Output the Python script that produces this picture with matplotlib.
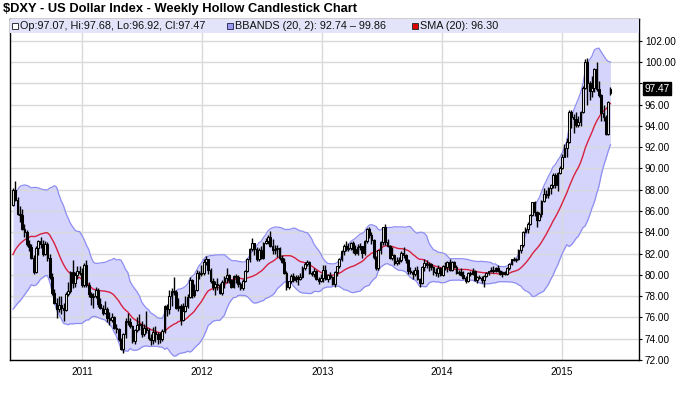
import matplotlib
matplotlib.use('Agg')
import matplotlib.pyplot as plt
import matplotlib.dates as mdates
import matplotlib.transforms as mtransforms
from matplotlib.patches import Rectangle
import numpy as np
import pandas as pd

plt.rcParams['font.family'] = ['Liberation Sans', 'DejaVu Sans']

# ---------------- data (weekly OHLC, $DXY) ----------------
# 19 weekly closes before the visible window (needed for SMA / BBANDS 20)
pre_closes = [78.3, 79.5, 80.5, 80.4, 80.5, 80.4, 80.2, 79.6, 80.9, 81.9,
              81.2, 80.6, 81.1, 81.6, 81.5, 84.0, 86.0, 85.4, 86.6]

first_week = '2010-06-04'

o2010 = [86.6, 88.0, 87.0, 85.7, 85.6, 84.3, 84.0, 82.9, 82.6, 81.6, 80.3, 82.5, 83.2, 82.9, 82.0, 82.9,
         81.6, 79.8, 78.3, 77.4, 76.8, 77.2, 76.9, 76.7, 78.2, 78.5, 80.3, 79.2, 80.0, 80.4, 80.2]
h2010 = [88.2, 88.8, 87.3, 86.5, 86.2, 84.8, 84.2, 83.3, 82.9, 81.9, 82.7, 83.3, 83.6, 83.3, 83.2, 83.1,
         82.0, 80.2, 78.7, 77.8, 78.0, 78.0, 77.4, 78.4, 79.3, 80.4, 81.4, 80.3, 80.8, 80.8, 80.6]
l2010 = [86.5, 86.9, 85.6, 85.0, 84.2, 83.6, 82.7, 82.2, 81.5, 80.1, 80.2, 81.9, 82.5, 81.8, 81.9, 81.3,
         79.6, 78.1, 77.3, 75.9, 76.5, 76.3, 75.7, 76.6, 78.0, 78.3, 78.8, 78.9, 79.6, 80.0, 78.9]
c2010 = [88.0, 87.0, 85.7, 85.6, 84.3, 84.0, 82.9, 82.6, 81.6, 80.3, 82.5, 83.2, 82.9, 82.0, 82.9, 81.6,
         79.8, 78.3, 77.4, 76.8, 77.2, 76.9, 76.7, 78.2, 78.5, 80.3, 79.2, 80.0, 80.4, 80.2, 79.0]

o2011 = [79.0, 80.9, 79.0, 78.2, 77.9, 78.0, 78.6, 77.3, 76.9, 76.4, 76.8, 75.9, 75.8, 76.0, 75.0, 74.9,
         74.0, 73.0, 74.4, 75.7, 75.6, 75.2, 73.8, 74.8, 75.3, 75.4, 74.4, 75.0, 74.8, 74.1, 73.9, 74.6,
         74.4, 74.0, 74.0, 74.7, 77.1, 76.8, 78.0, 78.5, 78.4, 76.9, 77.1, 75.8, 76.6, 77.1, 77.9, 79.5,
         78.1, 78.6, 80.2, 80.1]
h2011 = [81.1, 81.4, 79.3, 78.4, 78.3, 78.9, 78.8, 77.8, 77.2, 77.5, 77.0, 76.5, 76.4, 76.1, 75.4, 75.0,
         74.1, 74.5, 75.9, 76.4, 75.9, 75.3, 74.9, 76.0, 76.3, 75.7, 75.4, 76.6, 75.0, 74.4, 75.1, 75.2,
         74.6, 74.6, 74.9, 77.2, 77.3, 78.6, 78.8, 79.8, 78.6, 77.8, 77.3, 77.4, 78.0, 78.2, 79.8, 79.6,
         79.1, 80.5, 80.4, 80.9]
l2011 = [78.9, 78.9, 77.9, 77.2, 76.9, 77.8, 77.0, 76.8, 76.2, 76.3, 75.6, 75.3, 75.6, 74.9, 74.5, 73.8,
         72.9, 72.7, 74.1, 75.3, 75.0, 73.6, 73.5, 74.6, 74.8, 74.2, 74.3, 74.5, 73.9, 73.4, 73.5, 73.7,
         73.5, 73.6, 73.8, 74.5, 76.1, 76.3, 77.1, 78.1, 76.8, 76.6, 75.3, 75.7, 76.5, 76.9, 77.8, 77.8,
         77.9, 78.5, 79.6, 79.9]
c2011 = [80.9, 79.0, 78.2, 77.9, 78.0, 78.6, 77.3, 76.9, 76.4, 76.8, 75.9, 75.8, 76.0, 75.0, 74.9, 74.0,
         73.0, 74.4, 75.7, 75.6, 75.2, 73.8, 74.8, 75.3, 75.4, 74.4, 75.0, 74.8, 74.1, 73.9, 74.6, 74.4,
         74.0, 74.0, 74.7, 77.1, 76.8, 78.0, 78.5, 78.4, 76.9, 77.1, 75.8, 76.6, 77.1, 77.9, 79.5, 78.1,
         78.6, 80.2, 80.1, 80.2]

o2012 = [80.2, 81.2, 81.5, 80.5, 79.4, 78.9, 79.1, 79.0, 78.3, 79.3, 79.7, 80.0, 79.5, 78.9, 79.9, 79.8,
         79.1, 78.8, 79.4, 80.4, 81.5, 82.4, 83.0, 82.4, 81.5, 82.3, 81.6, 83.0, 83.2, 83.6, 82.7, 82.3,
         82.4, 82.5, 81.6, 81.2, 80.2, 78.9, 79.4, 79.9, 79.5, 79.8, 79.6, 79.8, 80.6, 81.0, 81.2, 80.2,
         80.1, 80.4, 79.6, 79.4]
h2012 = [81.5, 81.8, 81.5, 80.6, 79.7, 79.4, 79.7, 79.2, 79.5, 79.9, 80.6, 80.1, 79.6, 80.0, 80.1, 80.0,
         79.3, 79.6, 80.5, 81.6, 82.5, 83.5, 83.0, 82.6, 82.5, 82.7, 83.1, 83.5, 83.7, 84.1, 83.4, 82.8,
         82.8, 82.6, 81.9, 81.6, 80.4, 79.4, 80.1, 80.2, 80.0, 80.0, 80.2, 80.8, 81.2, 81.4, 81.3, 80.4,
         80.6, 80.5, 79.8, 80.1]
l2012 = [80.0, 80.9, 80.1, 79.2, 78.6, 78.1, 78.6, 78.2, 78.1, 78.8, 79.2, 79.2, 78.8, 78.8, 79.2, 78.9,
         78.6, 78.6, 79.3, 80.3, 81.2, 82.2, 81.9, 81.3, 81.3, 81.5, 81.5, 82.9, 82.9, 82.6, 82.0, 82.0,
         81.7, 81.4, 81.1, 80.1, 78.6, 78.7, 79.2, 79.3, 79.3, 79.0, 79.5, 79.7, 80.5, 80.8, 80.1, 79.9,
         79.8, 79.5, 79.1, 79.3]
c2012 = [81.2, 81.5, 80.5, 79.4, 78.9, 79.1, 79.0, 78.3, 79.3, 79.7, 80.0, 79.5, 78.9, 79.9, 79.8, 79.1,
         78.8, 79.4, 80.4, 81.5, 82.4, 83.0, 82.4, 81.5, 82.3, 81.6, 83.0, 83.2, 83.6, 82.7, 82.3, 82.4,
         82.5, 81.6, 81.2, 80.2, 78.9, 79.4, 79.9, 79.5, 79.8, 79.6, 79.8, 80.6, 81.0, 81.2, 80.2, 80.1,
         80.4, 79.6, 79.4, 79.7]

o2013 = [79.7, 80.5, 79.6, 80.0, 79.8, 79.1, 80.3, 80.8, 81.5, 82.2, 82.7, 82.4, 82.5, 83.0, 82.4, 82.1,
         82.6, 82.7, 82.1, 83.2, 84.3, 83.7, 83.3, 81.7, 80.6, 82.3, 83.1, 84.5, 83.1, 82.7, 81.6, 81.9,
         81.1, 81.3, 81.4, 82.1, 81.9, 81.4, 80.4, 80.3, 80.1, 80.5, 79.6, 79.2, 80.7, 81.1, 80.9, 81.0,
         80.7, 80.3, 80.2, 80.6]
h2013 = [80.9, 80.9, 80.1, 80.3, 79.9, 80.4, 80.8, 81.6, 82.3, 82.9, 83.2, 83.0, 83.1, 83.2, 82.8, 82.9,
         83.0, 82.7, 83.3, 84.4, 84.5, 84.0, 83.4, 81.8, 82.3, 83.2, 84.5, 84.8, 83.4, 82.8, 82.6, 82.0,
         81.7, 81.7, 82.2, 82.6, 82.0, 81.5, 80.7, 80.5, 80.7, 80.8, 79.7, 80.8, 81.5, 81.4, 81.2, 81.1,
         80.8, 80.6, 80.9, 80.7]
l2013 = [79.3, 79.5, 79.3, 79.6, 79.0, 78.9, 79.9, 80.6, 81.3, 81.9, 82.2, 82.2, 82.3, 82.1, 81.9, 81.9,
         82.3, 81.6, 81.9, 83.0, 83.5, 82.9, 81.5, 80.5, 80.5, 82.0, 82.8, 82.8, 82.6, 81.5, 81.4, 80.9,
         80.9, 81.0, 81.2, 81.6, 81.1, 80.1, 80.1, 79.6, 79.9, 79.5, 78.9, 79.1, 80.4, 80.6, 80.4, 80.5,
         80.0, 79.9, 79.8, 79.9]
c2013 = [80.5, 79.6, 80.0, 79.8, 79.1, 80.3, 80.8, 81.5, 82.2, 82.7, 82.4, 82.5, 83.0, 82.4, 82.1, 82.6,
         82.7, 82.1, 83.2, 84.3, 83.7, 83.3, 81.7, 80.6, 82.3, 83.1, 84.5, 83.1, 82.7, 81.6, 81.9, 81.1,
         81.3, 81.4, 82.1, 81.9, 81.4, 80.4, 80.3, 80.1, 80.5, 79.6, 79.2, 80.7, 81.1, 80.9, 81.0, 80.7,
         80.3, 80.2, 80.6, 80.0]

o2014 = [80.0, 80.8, 80.7, 81.2, 80.5, 81.2, 80.7, 80.2, 80.3, 80.0, 79.7, 79.4, 80.2, 80.1, 80.4, 79.5,
         79.8, 79.7, 79.5, 79.9, 80.2, 80.4, 80.5, 80.4, 80.6, 80.4, 80.1, 80.3, 80.1, 80.6, 81.0, 81.5,
         81.4, 81.5, 82.3, 82.8, 84.0, 84.3, 84.8, 85.6, 86.8, 85.9, 85.2, 85.7, 86.9, 87.6, 87.5, 88.2,
         88.4, 89.4, 88.4, 89.6]
h2014 = [80.9, 81.2, 81.3, 81.5, 81.3, 81.3, 80.9, 80.5, 80.6, 80.4, 79.9, 80.3, 80.4, 80.6, 80.5, 79.9,
         80.0, 79.9, 80.0, 80.3, 80.4, 80.7, 80.8, 80.7, 80.9, 80.5, 80.4, 80.4, 80.7, 81.1, 81.5, 81.7,
         81.6, 82.4, 82.8, 84.1, 84.5, 85.0, 85.7, 86.8, 86.9, 86.0, 85.9, 87.0, 88.2, 88.0, 88.3, 88.5,
         89.6, 89.6, 89.7, 90.2]
l2014 = [79.9, 80.5, 80.3, 80.4, 80.4, 80.6, 80.1, 80.0, 79.9, 79.6, 79.2, 79.3, 79.9, 80.0, 79.4, 79.2,
         79.6, 79.2, 78.9, 79.8, 80.0, 80.3, 80.2, 80.3, 80.3, 80.0, 79.8, 80.0, 80.0, 80.5, 80.9, 81.3,
         81.2, 81.4, 82.1, 82.6, 83.9, 83.9, 84.7, 85.5, 85.5, 84.5, 85.1, 85.4, 86.8, 87.2, 87.2, 87.6,
         88.2, 88.2, 87.9, 89.5]
c2014 = [80.8, 80.7, 81.2, 80.5, 81.2, 80.7, 80.2, 80.3, 80.0, 79.7, 79.4, 80.2, 80.1, 80.4, 79.5, 79.8,
         79.7, 79.5, 79.9, 80.2, 80.4, 80.5, 80.4, 80.6, 80.4, 80.1, 80.3, 80.1, 80.6, 81.0, 81.5, 81.4,
         81.5, 82.3, 82.8, 84.0, 84.3, 84.8, 85.6, 86.8, 85.9, 85.2, 85.7, 86.9, 87.6, 87.5, 88.2, 88.4,
         89.4, 88.4, 89.6, 90.0]

o2015 = [90.0, 91.1, 91.9, 92.5, 95.3, 94.8, 94.6, 94.1, 94.4, 95.3, 97.6, 100.0, 98.0, 97.3, 97.6,
         99.3, 97.5, 96.9, 95.2, 94.8, 93.2, 97.07]
h2015 = [91.4, 92.3, 92.9, 95.5, 95.5, 95.1, 95.3, 94.9, 95.4, 97.7, 100.3, 100.4, 98.2, 98.7, 99.4,
         100.0, 98.2, 97.0, 96.0, 95.0, 96.3, 97.68]
l2015 = [89.9, 91.1, 91.1, 92.4, 93.8, 93.3, 93.9, 93.9, 94.0, 95.2, 97.5, 96.0, 96.4, 96.7, 97.2,
         97.3, 96.7, 94.5, 94.5, 93.1, 93.1, 96.92]
c2015 = [91.1, 91.9, 92.5, 95.3, 94.8, 94.6, 94.1, 94.4, 95.3, 97.6, 100.0, 98.0, 97.3, 97.6, 99.3,
         97.5, 96.9, 95.2, 94.8, 93.2, 96.2, 97.47]

year_ticks = ['2011', '2012', '2013', '2014', '2015']
price_ticks = [72, 74, 76, 78, 80, 82, 84, 86, 88, 90, 92, 94, 96, 98, 100, 102]

title = '$DXY - US Dollar Index - Weekly Hollow Candlestick Chart'
legend_ohlc = 'Op:97.07, Hi:97.68, Lo:96.92, Cl:97.47'
legend_bb = 'BBANDS (20, 2): 92.74 \u2013 99.86'
legend_sma = 'SMA (20): 96.30'
last_price = 97.47

# ---------------- assemble ----------------
opens = np.array(o2010 + o2011 + o2012 + o2013 + o2014 + o2015)
highs = np.array(h2010 + h2011 + h2012 + h2013 + h2014 + h2015)
lows = np.array(l2010 + l2011 + l2012 + l2013 + l2014 + l2015)
closes = np.array(c2010 + c2011 + c2012 + c2013 + c2014 + c2015)
n = len(closes)
dates = pd.date_range(first_week, periods=n, freq='W-FRI')
x = mdates.date2num(dates)

allc = pd.Series(list(pre_closes) + list(closes))
sma = allc.rolling(20).mean().to_numpy()[len(pre_closes):]
sd = allc.rolling(20).std(ddof=0).to_numpy()[len(pre_closes):]
upper = sma + 2 * sd
lower = sma - 2 * sd

# ---------------- figure ----------------
W, H = 680, 399
fig = plt.figure(figsize=(W / 100, H / 100), dpi=100)
L, R, T, B = 10, 639.3, 19, 360
ax = fig.add_axes([L / W, 1 - B / H, (R - L) / W, (B - T) / H])

ax.fill_between(x, lower, upper, color='#d4d4fc', lw=0, zorder=0.3)
ax.plot(x, upper, color='#8e8ef2', lw=0.9, zorder=1)
ax.plot(x, lower, color='#8e8ef2', lw=0.9, zorder=1)
ax.plot(x, sma, color='#d8203f', lw=1.0, zorder=1.2)

up = closes >= opens
bottoms = np.minimum(opens, closes)
heights = np.maximum(np.abs(closes - opens), 0.08)
ax.vlines(x, lows, highs, color='black', lw=1.0, zorder=2)
ax.bar(x, heights, bottom=bottoms, width=5.2,
       color=np.where(up, '#e8e8e8', '#000000'), edgecolor='black', lw=0.75, zorder=3)

# axes limits
x0 = mdates.date2num(pd.Timestamp('2010-05-26'))
x1 = mdates.date2num(pd.Timestamp('2015-08-25'))
ax.set_xlim(x0, x1)
ax.set_ylim(72, 104.04)

tick_x = mdates.date2num(pd.to_datetime([y + '-01-01' for y in year_ticks]))
ax.set_xticks(tick_x)
ax.set_xticklabels(year_ticks)
ax.set_yticks(price_ticks)
ax.set_yticklabels(['' if v == 98 else f'{v:.2f}' for v in price_ticks])
ax.yaxis.tick_right()
ax.tick_params(axis='y', direction='out', length=2.5, width=0.8, pad=1.5, labelsize=7.2, colors='black')
ax.tick_params(axis='x', length=0, pad=5, labelsize=7.2)

ax.set_axisbelow(True)
ax.grid(True, color='#d9d9d9', lw=1.0)
for s in ax.spines.values():
    s.set_color('black')
    s.set_linewidth(1.0)

# legend band
band_h = 14 / (B - T)
ax.add_patch(Rectangle((0, 1 - band_h), 1, band_h, transform=ax.transAxes,
                       facecolor='#e3e3f9', edgecolor='none', zorder=4))
yl = 1 - band_h / 2
def ax_x(px):
    return (px - L) / (R - L)
ax.plot([ax_x(15)], [yl], marker='s', ms=4.2, mfc='white', mec='#333333', mew=0.7,
        transform=ax.transAxes, zorder=5, clip_on=False)
ax.text(ax_x(19.5), yl, legend_ohlc, transform=ax.transAxes, fontsize=7.8, va='center',
        ha='left', zorder=5, color='#111111')
ax.plot([ax_x(230)], [yl], marker='s', ms=4.2, mfc='#9a9aee', mec='#333366', mew=0.7,
        transform=ax.transAxes, zorder=5, clip_on=False)
ax.text(ax_x(235), yl, legend_bb, transform=ax.transAxes, fontsize=7.8, va='center',
        ha='left', zorder=5, color='#111111')
ax.plot([ax_x(415)], [yl], marker='s', ms=4.2, mfc='#dd0000', mec='#333333', mew=0.7,
        transform=ax.transAxes, zorder=5, clip_on=False)
ax.text(ax_x(420), yl, legend_sma, transform=ax.transAxes, fontsize=7.8, va='center',
        ha='left', zorder=5, color='#111111')

# last price tag
trans = mtransforms.blended_transform_factory(ax.transAxes, ax.transData)
ax.text(1 + 5 / (R - L), last_price, f'{last_price:.2f}', transform=trans, fontsize=7.3,
        color='white', va='center', ha='left',
        bbox=dict(boxstyle='square,pad=0.15', facecolor='black', edgecolor='black'), clip_on=False)

fig.text(3 / W, 1 - 9 / H, title, fontsize=9.3, fontweight='bold', va='center', ha='left')

fig.savefig('out.png', dpi=100)
